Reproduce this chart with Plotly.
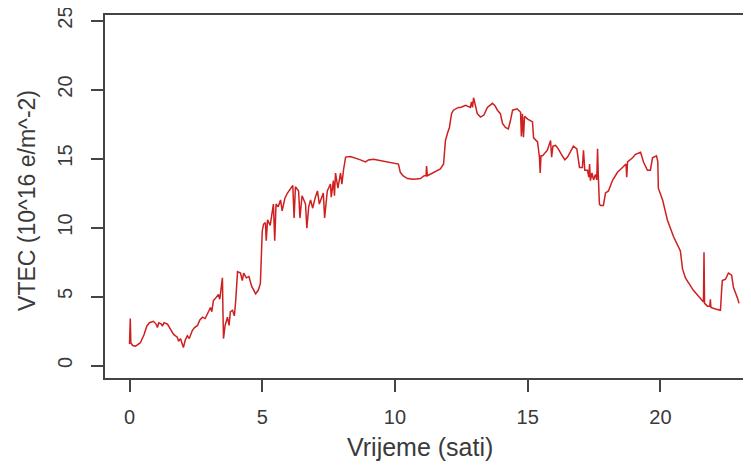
import plotly.graph_objects as go

# VTEC over one day
hours = [
    0.00, 0.03, 0.05, 0.12, 0.23, 0.41, 0.55, 0.65, 0.75, 0.90, 1.00, 1.05, 1.10, 1.20, 1.24, 1.30,
    1.43, 1.55, 1.66, 1.80, 1.85, 1.92, 1.98, 2.03, 2.10, 2.18, 2.25, 2.37, 2.45, 2.56, 2.65, 2.75,
    2.85, 2.94, 3.05, 3.10, 3.16, 3.25, 3.35, 3.40, 3.45, 3.50, 3.52, 3.54, 3.60, 3.69, 3.75, 3.80,
    3.88, 3.95, 4.00, 4.07, 4.18, 4.25, 4.30, 4.40, 4.50, 4.60, 4.75, 4.85, 4.93, 5.00, 5.05, 5.12,
    5.15, 5.20, 5.30, 5.35, 5.42, 5.47, 5.52, 5.60, 5.69, 5.75, 5.85, 5.95, 6.06, 6.15, 6.20, 6.25,
    6.37, 6.42, 6.50, 6.63, 6.68, 6.75, 6.82, 6.90, 7.00, 7.08, 7.15, 7.30, 7.35, 7.45, 7.57, 7.60,
    7.68, 7.72, 7.76, 7.85, 7.95, 8.00, 8.06, 8.14, 8.32, 8.50, 8.70, 8.89, 9.00, 9.19, 9.45, 9.72,
    9.94, 10.13, 10.20, 10.30, 10.47, 10.70, 10.96, 11.10, 11.17, 11.19, 11.22, 11.45, 11.71, 11.83,
    11.90, 11.98, 12.05, 12.13, 12.20, 12.39, 12.47, 12.66, 12.84, 12.88, 12.92, 12.96, 13.00, 13.05,
    13.10, 13.22, 13.35, 13.48, 13.67, 13.76, 13.86, 13.97, 14.05, 14.16, 14.27, 14.35, 14.43, 14.60,
    14.73, 14.76, 14.80, 14.84, 14.88, 15.00, 15.18, 15.22, 15.37, 15.44, 15.47, 15.50, 15.56, 15.74,
    15.86, 15.90, 15.95, 16.05, 16.15, 16.30, 16.40, 16.50, 16.60, 16.72, 16.85, 16.91, 16.95, 17.06,
    17.10, 17.15, 17.25, 17.30, 17.33, 17.36, 17.42, 17.48, 17.55, 17.60, 17.63, 17.66, 17.70, 17.74,
    17.85, 17.93, 18.04, 18.19, 18.38, 18.57, 18.70, 18.73, 18.76, 18.95, 19.06, 19.25, 19.36, 19.51,
    19.62, 19.70, 19.85, 19.90, 19.92, 20.08, 20.26, 20.49, 20.75, 20.83, 20.94, 21.24, 21.50, 21.62,
    21.64, 21.66, 21.77, 21.86, 21.88, 21.90, 22.07, 22.26, 22.30, 22.33, 22.45, 22.56, 22.68, 22.75,
    22.90, 22.96,
]
vtec = [
    1.55, 3.4, 1.65, 1.45, 1.4, 1.65, 2.25, 2.85, 3.1, 3.2, 3.0, 2.75, 3.1, 3.0, 2.85, 3.1,
    3.0, 2.55, 2.25, 2.05, 1.75, 1.95, 1.55, 1.3, 1.85, 2.15, 1.95, 2.55, 2.75, 2.9, 3.3, 3.5,
    3.4, 3.8, 4.2, 3.9, 4.7, 4.9, 5.15, 4.8, 5.65, 6.35, 3.9, 1.95, 2.9, 3.5, 2.9, 3.9,
    4.0, 3.6, 4.7, 6.8, 6.7, 6.15, 6.7, 6.35, 6.45, 5.75, 5.2, 5.45, 5.95, 9.75, 10.25, 10.35,
    9.05, 10.55, 10.15, 10.9, 11.7, 9.05, 11.7, 11.5, 12.0, 11.2, 12.1, 12.5, 12.85, 13.05, 10.7, 12.95,
    12.65, 10.7, 12.3, 11.7, 9.95, 11.5, 12.0, 11.4, 12.2, 12.65, 11.7, 12.5, 10.7, 12.65, 13.15, 12.2,
    13.4, 12.3, 13.95, 12.85, 13.95, 13.15, 14.15, 15.1, 15.15, 15.05, 14.9, 14.75, 14.9, 14.95, 14.85, 14.75,
    14.7, 14.6, 14.0, 13.75, 13.55, 13.5, 13.55, 13.75, 13.75, 14.45, 13.75, 14.0, 14.25, 14.6,
    16.3, 16.85, 17.25, 18.25, 18.5, 18.7, 18.7, 18.85, 18.7, 19.1, 18.7, 19.4, 19.0, 18.5,
    18.25, 18.0, 18.15, 18.7, 19.0, 18.85, 18.5, 18.25, 17.55, 17.25, 17.15, 17.75, 18.5, 18.6,
    18.35, 16.6, 18.25, 16.55, 18.05, 17.85, 17.65, 16.5, 16.2, 15.1, 13.95, 15.2, 15.2, 15.6,
    16.3, 15.1, 15.9, 15.95, 15.7, 15.2, 14.9, 15.1, 15.5, 15.9, 15.7, 14.6, 14.35, 14.35,
    15.6, 14.15, 14.15, 13.65, 14.6, 13.4, 13.95, 13.45, 13.85, 13.45, 15.7, 13.65, 11.7, 11.6,
    11.6, 12.5, 12.65, 13.4, 14.0, 14.35, 14.6, 13.65, 14.75, 15.05, 15.3, 15.45, 14.75, 14.15,
    14.15, 15.05, 15.2, 14.75, 12.85, 12.0, 10.55, 9.35, 8.3, 7.0, 6.35, 5.45, 4.9, 4.6,
    8.2, 4.5, 4.3, 4.3, 4.8, 4.2, 4.1, 4.0, 5.35, 6.15, 6.25, 6.7, 6.55, 5.65,
    4.9, 4.5,
]
x_ticks = [0, 5, 10, 15, 20]
y_ticks = [0, 5, 10, 15, 20, 25]

axis_col = "#444444"
text_col = "#3a3a3a"
font = dict(family="Liberation Sans, Arial, sans-serif", size=20, color=text_col)

fig = go.Figure()
fig.add_trace(go.Scatter(x=hours, y=vtec, mode="lines",
                         line=dict(color="#cf1f1f", width=1.5), showlegend=False))

# the page body adds an 8px offset, so margins are shifted to compensate
fig.update_layout(
    width=751, height=466,
    margin=dict(l=97, r=8, t=7, b=96),
    paper_bgcolor="white", plot_bgcolor="white",
    font=font,
    annotations=[
        dict(text="Vrijeme (sati)", xref="paper", yref="paper", x=0.488, y=-0.19,
             xanchor="center", yanchor="middle", showarrow=False,
             font=dict(size=25, color=text_col)),
        dict(text="VTEC (10^16 e/m^-2)", xref="paper", yref="paper", x=-0.121, y=0.49,
             xanchor="center", yanchor="middle", textangle=-90, showarrow=False,
             font=dict(size=23, color=text_col)),
    ],
)
fig.update_xaxes(range=[-0.923, 23.41], tickvals=x_ticks, showgrid=False, zeroline=False,
                 showline=True, mirror=True, linecolor=axis_col, linewidth=1.5,
                 ticks="outside", ticklen=12, tickwidth=1.5, tickcolor=axis_col,
                 ticklabelstandoff=8, ticklabeloverflow="allow", automargin=False)
fig.update_yaxes(range=[-0.906, 25.4], tickvals=y_ticks, showgrid=False, zeroline=False,
                 showline=True, mirror=False, linecolor=axis_col, linewidth=1.5,
                 ticks="outside", ticklen=12, tickwidth=1.5, tickcolor=axis_col,
                 tickangle=-90, ticklabelstandoff=11, ticklabeloverflow="allow",
                 automargin=False)

fig.write_html("out.html")
